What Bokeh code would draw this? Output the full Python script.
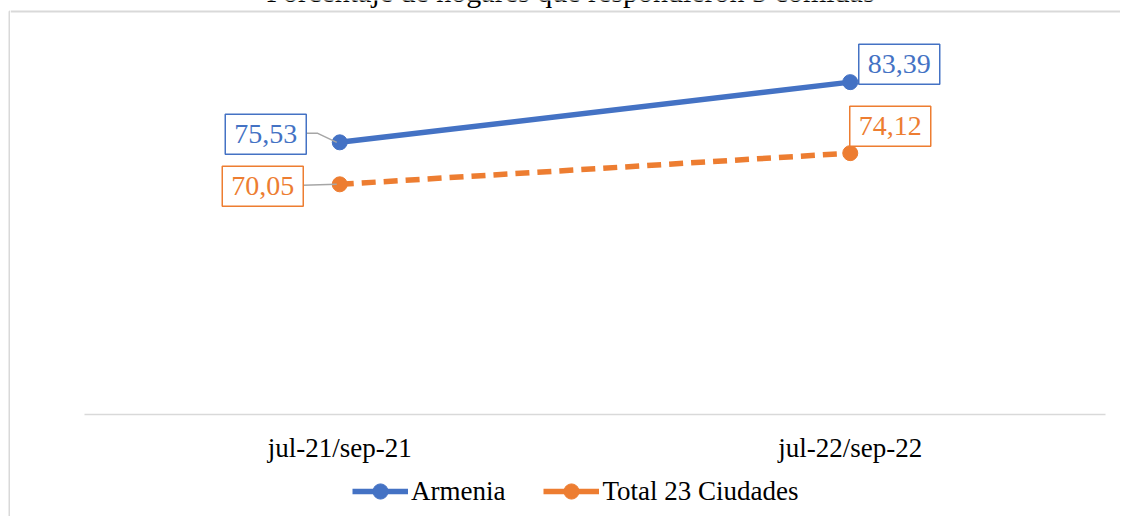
from bokeh.plotting import figure
from bokeh.layouts import column, row
from bokeh.models import Range1d, FixedTicker, Label, Legend, LegendItem
from bokeh.embed import file_html
from bokeh.resources import INLINE

title_text = "Porcentaje de hogares que respondieron 3 comidas"
periods = ["jul-21/sep-21", "jul-22/sep-22"]
armenia = [75.53, 83.39]
total23 = [70.05, 74.12]
series_names = ["Armenia", "Total 23 Ciudades"]

FONT = "Liberation Serif"
BLUE = "#4472C4"
ORANGE = "#ED7D31"
GRID = "#D9D9D9"
LEADER = "#A6A6A6"
FS = "27px"

Y0, Y1 = 40, 90
N = len(periods)
xs = [i + 0.5 for i in range(N)]

# pixel geometry
STRIP = 10                      # narrow strip holding the left border of the chart area
W, H_MAIN, H_LEG = 1110, 470, 46
PLOT_L, PLOT_R, PLOT_T, PLOT_B = 74, 1095, 31, 414
BORDER_Y = 11
ppx = (PLOT_R - PLOT_L) / N
ppy = (PLOT_B - PLOT_T) / (Y1 - Y0)
FRAME_B = PLOT_B + 2

x_start = -PLOT_L / ppx
x_end = N + (W - PLOT_R) / ppx
y_start = Y0 - (FRAME_B - PLOT_B) / ppy
y_end = Y1 + PLOT_T / ppy


def bare(fig):
    fig.outline_line_color = None
    fig.grid.visible = False
    return fig


# left border strip
H_ALL = H_MAIN + H_LEG
s = bare(figure(width=STRIP, height=H_ALL, output_backend="svg", toolbar_location=None,
                x_range=Range1d(0, STRIP), y_range=Range1d(0, H_ALL),
                x_axis_location=None, y_axis_location=None,
                min_border_left=0, min_border_right=0, min_border_top=0, min_border_bottom=0))
s.line([STRIP, 9, 9], [H_ALL - BORDER_Y, H_ALL - BORDER_Y, 0], color=GRID, line_width=2)

# main chart
p = bare(figure(width=W, height=H_MAIN, output_backend="svg", toolbar_location=None,
                x_range=Range1d(x_start, x_end), y_range=Range1d(y_start, y_end),
                y_axis_location=None, min_border_left=0, min_border_right=0,
                min_border_top=0, min_border_bottom=H_MAIN - FRAME_B))

ax = p.xaxis[0]
ax.ticker = FixedTicker(ticks=xs)
ax.major_label_overrides = {x: lbl for x, lbl in zip(xs, periods)}
ax.axis_line_color = None
ax.major_tick_line_color = None
ax.minor_tick_line_color = None
ax.major_label_text_font = FONT
ax.major_label_text_font_size = FS
ax.major_label_text_color = "black"
ax.major_label_standoff = 10
p.line([0, N], [Y0, Y0], color=GRID, line_width=1.5)

# top border of the chart area
by = y_end - BORDER_Y / ppy
p.line([x_start, x_end], [by, by], color=GRID, line_width=2)

# series
p.line(xs, armenia, color=BLUE, line_width=5.5)
p.scatter(xs, armenia, size=15, color=BLUE)
p.line(xs, total23, color=ORANGE, line_width=5.5, line_dash="14 8")
p.scatter(xs, total23, size=15, color=ORANGE)

# leader lines (pixel offsets converted to data units)
lead1 = [(-34, 9), (-22, 9), (-3, 0)]
lead2 = [(-37, -1), (-3, 0)]
p.line([xs[0] + dx / ppx for dx, dy in lead1], [armenia[0] + dy / ppy for dx, dy in lead1],
       color=LEADER, line_width=1.5)
p.line([xs[0] + dx / ppx for dx, dy in lead2], [total23[0] + dy / ppy for dx, dy in lead2],
       color=LEADER, line_width=1.5)


def fmt(v):
    return f"{v:.2f}".replace(".", ",")


offs_a = [(-74, 8), (49, 18)]
offs_t = [(-77, -2), (40, 27)]
for vals, offs, col in ((armenia, offs_a, BLUE), (total23, offs_t, ORANGE)):
    for x, v, (dx, dy) in zip(xs, vals, offs):
        p.add_layout(Label(x=x, y=v, text=fmt(v), x_offset=dx, y_offset=dy,
                           text_align="center", text_baseline="middle",
                           text_font=FONT, text_font_size="28px", text_color=col,
                           background_fill_color="white", border_line_color=col,
                           border_line_width=1.5,
                           padding=dict(left=9, right=9, top=11, bottom=11)))

# title (cut off at the top, as in the reference)
p.add_layout(Label(x=570 - STRIP, y=FRAME_B + 9, x_units="screen", y_units="screen",
                   text=title_text, text_align="center", text_baseline="alphabetic",
                   text_font=FONT, text_font_size="30px", text_color="black"))

# legend strip (legend renderers hold the series data, outside this strip's visible range)
q = bare(figure(width=W, height=H_LEG, output_backend="svg", toolbar_location=None,
                x_range=Range1d(0, W), y_range=Range1d(0, H_LEG),
                x_axis_location=None, y_axis_location=None,
                min_border_left=0, min_border_right=0, min_border_top=0, min_border_bottom=0))
l1 = q.line(xs, armenia, color=BLUE, line_width=5.5)
c1 = q.scatter(xs, armenia, size=15, color=BLUE)
l2 = q.line(xs, total23, color=ORANGE, line_width=5.5)
c2 = q.scatter(xs, total23, size=15, color=ORANGE)
legend = Legend(items=[LegendItem(label=series_names[0], renderers=[l1, c1]),
                       LegendItem(label=series_names[1], renderers=[l2, c2])],
                orientation="horizontal", location=(352 - STRIP, 6),
                label_text_font=FONT, label_text_font_size=FS, label_text_color="black",
                glyph_width=56, glyph_height=38, label_height=24, label_standoff=3,
                spacing=38, border_line_color=None, background_fill_alpha=0,
                padding=0, margin=0)
q.add_layout(legend)

open("out.html", "w").write(file_html(row(s, column(p, q)), INLINE))
